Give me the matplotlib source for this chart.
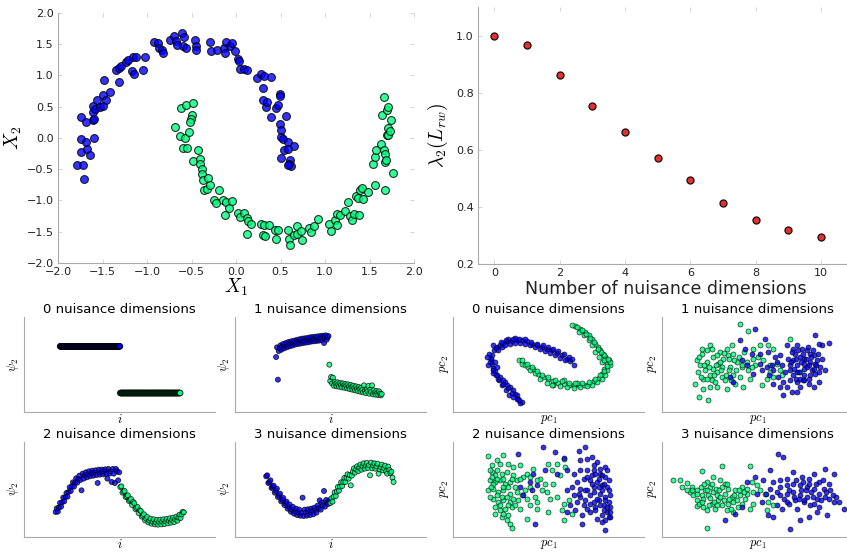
#
# Two moons, spectral embedding vs. nuisance dimensions
#

import numpy as np
import matplotlib.pyplot as plt

# ---- top left: two moons data set
moon_blue_x = [-1.79, -1.72, -1.71, -1.74, -1.74, -1.69, -1.67, -1.64, -1.74, -1.68,
               -1.60, -1.61, -1.60, -1.61, -1.61, -1.58, -1.56, -1.53, -1.49, -1.50,
               -1.46, -1.42, -1.48, -1.32, -1.35, -1.32, -1.29, -1.24, -1.21, -1.16,
               -1.17, -1.15, -1.12, -1.04, -1.02, -0.92, -0.88, -0.86, -0.83, -0.82,
               -0.74, -0.70, -0.67, -0.66, -0.61, -0.59, -0.60, -0.56, -0.46, -0.45,
               -0.45, -0.29, -0.28, -0.21, -0.14, -0.11, -0.12, -0.07, -0.05, -0.01,
               0.02, 0.03, 0.04, 0.09, 0.12, 0.24, 0.28, 0.32, 0.39, 0.30,
               0.30, 0.34, 0.35, 0.49, 0.49, 0.45, 0.47, 0.39, 0.56, 0.49,
               0.51, 0.51, 0.53, 0.58, 0.65, 0.54, 0.58, 0.51, 0.61, 0.60,
               0.62, 0.58]
moon_blue_y = [-0.44, -0.44, -0.66, -0.22, -0.01, -0.07, -0.18, -0.27, 0.33, 0.26,
               0.00, 0.28, 0.30, 0.51, 0.41, 0.46, 0.61, 0.49, 0.51, 0.69,
               0.61, 0.73, 0.92, 0.90, 1.08, 1.12, 1.15, 1.21, 1.25, 1.30,
               1.07, 1.03, 1.30, 1.09, 1.30, 1.54, 1.52, 1.44, 1.40, 1.36,
               1.57, 1.63, 1.55, 1.49, 1.68, 1.61, 1.47, 1.44, 1.56, 1.47,
               1.40, 1.54, 1.39, 1.40, 1.44, 1.53, 1.36, 1.47, 1.52, 1.39,
               1.26, 1.23, 1.11, 1.10, 1.08, 0.96, 1.03, 0.99, 0.97, 0.80,
               0.60, 0.49, 0.57, 0.71, 0.67, 0.48, 0.53, 0.33, 0.35, 0.23,
               0.13, 0.01, -0.02, -0.07, -0.13, -0.19, -0.18, -0.32, -0.36, -0.41,
               -0.45, -0.43]
moon_green_x = [-0.69, -0.63, -0.62, -0.56, -0.48, -0.57, -0.60, -0.55, -0.53, -0.50,
                -0.51, -0.52, -0.48, -0.43, -0.41, -0.40, -0.38, -0.38, -0.37, -0.36,
                -0.33, -0.31, -0.29, -0.25, -0.23, -0.19, -0.15, -0.11, -0.12, -0.08,
                -0.04, 0.02, 0.05, 0.09, 0.12, 0.14, 0.17, 0.12, 0.28, 0.31,
                0.37, 0.30, 0.33, 0.44, 0.47, 0.45, 0.58, 0.59, 0.61, 0.65,
                0.68, 0.69, 0.73, 0.74, 0.82, 0.84, 0.88, 0.92, 1.05, 1.07,
                1.11, 1.13, 1.14, 1.17, 1.23, 1.26, 1.28, 1.30, 1.33, 1.35,
                1.38, 1.37, 1.39, 1.41, 1.43, 1.48, 1.54, 1.56, 1.56, 1.57,
                1.63, 1.64, 1.66, 1.66, 1.67, 1.67, 1.67, 1.68, 1.70, 1.71,
                1.71, 1.70, 1.71, 1.73, 1.74, 1.76]
moon_green_y = [0.17, 0.03, 0.48, 0.53, 0.56, 0.00, -0.16, -0.16, 0.09, 0.36,
                0.30, 0.25, -0.37, -0.19, -0.34, -0.41, -0.50, -0.57, -0.68, -0.83,
                -0.82, -0.64, -0.75, -1.00, -1.04, -0.84, -1.00, -1.03, -1.23, -1.12,
                -1.01, -1.20, -1.26, -1.20, -1.28, -1.33, -1.37, -1.54, -1.38, -1.39,
                -1.39, -1.56, -1.57, -1.47, -1.47, -1.61, -1.48, -1.62, -1.71, -1.55,
                -1.41, -1.53, -1.49, -1.63, -1.44, -1.50, -1.41, -1.30, -1.38, -1.49,
                -1.31, -1.21, -1.40, -1.24, -1.17, -1.02, -1.25, -1.32, -1.21, -0.93,
                -1.23, -0.96, -0.83, -0.80, -0.97, -0.87, -0.41, -0.75, -0.30, -0.19,
                -0.09, 0.37, 0.65, -0.19, -0.83, -0.25, -0.39, -0.35, 0.45, 0.50,
                0.16, 0.04, 0.05, 0.11, 0.29, -0.56]

# ---- top right: second eigenvalue
n_nuisance = [0, 1, 2, 3, 4, 5, 6, 7, 8, 9, 10]
lambda2 = [1.0, 0.967, 0.861, 0.754, 0.664, 0.571, 0.494, 0.415, 0.355, 0.320, 0.296]

# ---- bottom: psi_2 per sample index (read in panel units, 0..285 high)
psi0_blue = [197] * 200
psi0_green = [57] * 200
psi1_blue = [165, 194, 97, 183, 192, 200, 187, 196, 204, 191, 199, 207, 194, 202, 210, 197,
             205, 212, 199, 207, 214, 202, 209, 216, 204, 211, 218, 205, 213, 220, 207, 214,
             221, 208, 215, 222, 209, 217, 224, 211, 218, 225, 212, 219, 226, 213, 220, 227,
             214, 221, 228, 215, 222, 229, 207, 223, 230, 217, 224, 228]
psi1_green = [142, 93, 105, 86, 103, 79, 90, 84, 77, 89, 82, 76, 87, 81, 74, 86, 79, 73, 84,
              78, 71, 83, 76, 69, 81, 74, 67, 79, 72, 65, 77, 70, 63, 75, 68, 61, 73, 66, 59,
              80, 64, 57, 69, 62, 78, 55, 67, 60, 80, 53, 65, 58, 52, 63, 57, 51, 62, 55, 50, 54]
psi2_blue = [75, 86, 76, 88, 102, 91, 104, 118, 107, 120, 132, 121, 135, 149, 138, 152, 164,
             151, 163, 176, 163, 174, 184, 171, 140, 190, 175, 185, 194, 179, 188, 197, 182,
             191, 199, 184, 193, 200, 186, 162, 202, 187, 195, 202, 188, 196, 203, 189, 175,
             204, 190, 197, 165, 204, 190, 162, 204, 197, 170, 194]
psi2_green = [150, 152, 133, 136, 138, 120, 122, 125, 108, 111, 114, 96, 105, 101, 84, 87, 90,
              72, 80, 78, 61, 64, 68, 50, 55, 60, 44, 49, 55, 40, 46, 53, 38, 44, 51, 37, 45,
              52, 38, 46, 53, 39, 47, 54, 41, 49, 56, 43, 51, 58, 45, 53, 61, 49, 58, 67, 57,
              68, 75, 74]
psi3_blue = [182, 185, 162, 165, 170, 147, 151, 154, 133, 139, 145, 120, 125, 130, 107, 112,
             117, 96, 102, 106, 85, 91, 97, 76, 82, 90, 70, 77, 85, 66, 74, 82, 64, 72, 118,
             63, 82, 73, 64, 83, 74, 66, 85, 77, 68, 88, 80, 73, 94, 86, 110, 82, 103, 95, 138,
             91, 111, 105, 99, 110]
psi3_green = [102, 116, 106, 121, 134, 123, 136, 150, 139, 151, 164, 153, 165, 177, 165, 177,
              188, 175, 186, 155, 184, 196, 206, 193, 203, 212, 198, 208, 217, 202, 212, 221,
              205, 214, 222, 207, 215, 185, 223, 206, 214, 221, 205, 212, 220, 190, 203, 210,
              217, 200, 207, 214, 197, 190, 211, 201, 192, 196, 178, 165]

# ---- bottom: first two principal components (panel units, 0..572 wide, 0..285 high)
pc0_blue_x = [205, 195, 190, 185, 178, 170, 162, 155, 148, 140, 132, 125, 120, 115, 113, 115,
              122, 130, 140, 150, 162, 175, 190, 205, 220, 235, 250, 265, 280, 295, 310, 325,
              340, 350, 360, 108, 112, 125, 130, 128, 138, 145, 158, 168, 180, 200, 135, 145,
              155, 170, 185, 200, 215, 230, 245, 260, 275, 290, 305, 320, 335, 120, 110, 165, 185,
              100, 105, 118, 135, 150, 165, 175, 190, 198, 128, 142, 158, 178, 198, 215, 232,
              250, 268, 285, 300, 315, 330, 345, 355, 118]
pc0_blue_y = [30, 40, 50, 55, 65, 75, 82, 90, 95, 105, 112, 122, 132, 145, 158, 170,
              185, 195, 202, 208, 212, 213, 217, 215, 212, 205, 200, 195, 190, 185, 178, 170,
              160, 152, 142, 175, 160, 150, 135, 110, 95, 80, 65, 50, 45, 28, 185, 195,
              200, 205, 208, 207, 205, 200, 195, 188, 182, 178, 170, 162, 155, 200, 150, 220, 222,
              165, 140, 118, 100, 85, 72, 58, 40, 35, 192, 210, 216, 220, 220, 218, 210,
              205, 200, 195, 190, 182, 175, 165, 158, 125]
pc0_green_x = [198, 205, 215, 225, 240, 255, 270, 285, 300, 315, 330, 345, 360, 375, 390, 405,
               420, 435, 445, 452, 460, 465, 455, 448, 440, 432, 425, 415, 405, 395, 380, 365,
               260, 280, 300, 320, 340, 360, 380, 400, 415, 430, 445, 455, 460, 468, 445, 435,
               425, 415, 405, 390, 375, 355, 295, 330, 370, 230, 245, 450,
               205, 220, 235, 250, 265, 285, 305, 325, 345, 365, 385, 405, 425, 440, 452, 460,
               470, 462, 452, 442, 432, 420, 410, 398, 385, 370]
pc0_green_y = [155, 145, 140, 135, 128, 115, 105, 98, 92, 88, 85, 82, 82, 82, 82, 85,
               92, 102, 115, 130, 145, 155, 165, 175, 185, 195, 205, 220, 230, 240, 250, 258,
               100, 88, 82, 78, 75, 72, 75, 78, 82, 90, 100, 110, 125, 140, 150, 165,
               180, 200, 215, 230, 240, 260, 82, 95, 88, 125, 118, 155,
               155, 145, 135, 122, 112, 105, 97, 92, 88, 88, 88, 90, 98, 110, 122, 138,
               150, 160, 170, 180, 190, 210, 222, 235, 246, 255]

pc1_green_x = [233, 258, 318, 333, 143, 118, 103, 113, 108, 98, 111, 138, 123, 143, 153, 168,
               183, 198, 213, 153, 133, 173, 193, 208, 163, 178, 188, 143, 163, 223, 238, 258,
               273, 288, 303, 323, 343, 353, 323, 298, 243, 213, 233, 263, 333, 358, 383, 413,
               128, 148, 173, 203, 273, 293, 193, 218, 278, 313, 123, 158,
               110, 120, 135, 150, 165, 185, 200, 215, 230, 245, 125, 140, 160, 180, 200, 220,
               115, 135, 155, 175, 190, 205, 240, 255, 270]
pc1_green_y = [265, 242, 200, 188, 200, 175, 155, 140, 120, 85, 45, 35, 100, 110, 130, 145,
               160, 170, 175, 165, 150, 180, 190, 200, 120, 105, 95, 75, 75, 150, 135, 125,
               160, 165, 155, 140, 145, 125, 120, 80, 75, 110, 105, 100, 105, 110, 220, 120,
               125, 95, 150, 135, 190, 200, 70, 85, 140, 100, 70, 90,
               165, 190, 185, 190, 170, 178, 160, 155, 165, 180, 140, 135, 140, 135, 125, 125,
               105, 100, 110, 125, 110, 95, 140, 150, 135]
pc1_blue_x = [278, 308, 393, 443, 458, 468, 478, 498, 373, 403, 418, 433, 453, 423, 393, 383,
              403, 423, 443, 463, 473, 458, 443, 423, 403, 383, 368, 353, 338, 318, 293, 268,
              248, 233, 273, 298, 313, 333, 348, 363, 383, 403, 423, 438, 453, 373, 353, 388,
              403, 363, 213, 203, 238, 253, 293, 478, 488, 468, 413, 333, 398, 413, 433, 448,
              413, 393, 378, 458,
              390, 405, 420, 435, 450, 465, 385, 400, 415, 430, 445, 460, 395, 410, 425, 440,
              455, 470, 400, 420, 440, 360, 345, 330, 320]
pc1_blue_y = [250, 220, 190, 175, 232, 205, 200, 208, 200, 202, 190, 185, 170, 160, 155, 140,
              140, 145, 150, 155, 135, 115, 110, 110, 120, 125, 120, 170, 165, 180, 175, 175,
              190, 215, 115, 125, 135, 125, 105, 90, 95, 90, 95, 85, 75, 75, 75, 60,
              60, 52, 90, 105, 155, 140, 145, 160, 125, 90, 75, 85, 175, 165, 135, 125,
              100, 110, 160, 145,
              180, 185, 175, 195, 185, 175, 150, 160, 150, 160, 165, 140, 130, 120, 130, 140,
              130, 120, 100, 95, 100, 140, 150, 140, 110]

pc2_green_x = [105, 150, 130, 115, 140, 165, 180, 200, 115, 125, 145, 160, 180, 110, 125, 140,
               155, 170, 190, 210, 220, 105, 120, 135, 150, 170, 190, 215, 230, 120, 135, 150,
               170, 195, 220, 245, 125, 140, 155, 175, 200, 230, 250, 145, 160, 170, 175, 165,
               220, 260, 275, 295, 310, 330, 335, 320, 300, 280, 290, 310, 330, 345, 325, 330,
               355, 250, 285, 265, 240, 285,
               110, 115, 118, 112, 130, 132, 148, 150, 165, 175, 185, 200, 130, 145, 160, 180,
               110, 140, 165, 185, 205, 125, 150, 230, 250]
pc2_green_y = [242, 245, 230, 215, 220, 220, 210, 215, 195, 185, 190, 195, 185, 170, 165, 170,
               160, 165, 170, 180, 190, 140, 145, 135, 140, 130, 135, 140, 150, 115, 105, 110,
               105, 110, 115, 120, 90, 80, 85, 90, 85, 95, 105, 60, 50, 40, 28, 65,
               55, 175, 160, 200, 220, 235, 210, 185, 160, 135, 115, 120, 100, 110, 80, 50,
               70, 85, 75, 140, 205, 220,
               200, 180, 160, 150, 200, 175, 175, 150, 150, 175, 150, 175, 125, 120, 120, 115,
               120, 95, 95, 95, 125, 70, 70, 180, 170]
pc2_blue_x = [195, 270, 305, 330, 375, 395, 380, 400, 415, 430, 455, 240, 275, 310, 340, 360,
              380, 400, 420, 440, 455, 390, 410, 430, 445, 460, 370, 355, 340, 380, 400, 420,
              440, 455, 465, 470, 460, 445, 430, 455, 470, 380, 395, 410, 425, 370, 350, 365,
              340, 385, 400, 235, 210, 200, 230, 250, 245, 385, 455, 420, 435, 450, 415, 435,
              420, 445, 430, 410,
              420, 440, 460, 425, 445, 465, 400, 415, 435, 450, 465, 470, 455, 440, 425, 410,
              395, 375, 360, 390, 460, 450, 465, 445, 470]
pc2_blue_y = [250, 270, 255, 238, 258, 270, 230, 235, 240, 225, 210, 190, 200, 190, 200, 190,
              200, 200, 200, 190, 180, 175, 170, 165, 155, 150, 165, 150, 140, 145, 140, 135,
              130, 120, 105, 90, 75, 65, 55, 50, 60, 120, 110, 100, 90, 105, 95, 80,
              75, 65, 85, 140, 125, 150, 165, 155, 40, 40, 20, 105, 110, 95, 185, 175,
              150, 140, 115, 125,
              215, 205, 200, 190, 185, 170, 180, 160, 150, 160, 140, 125, 110, 95, 80, 75,
              140, 130, 125, 95, 90, 80, 60, 45, 75]

pc3_green_x = [33, 53, 73, 88, 83, 103, 118, 118, 103, 123, 138, 153, 143, 133, 153, 173,
               178, 188, 198, 218, 233, 248, 168, 148, 123, 103, 133, 158, 178, 198, 213, 228,
               193, 213, 238, 263, 268, 283, 273, 293, 308, 318, 333, 313, 263, 273, 133, 143,
               163, 253, 93, 128, 173, 188, 208, 223,
               60, 75, 90, 105, 115, 125, 135, 150, 160, 170, 180, 195, 110, 120, 140, 155,
               165, 185, 200, 215, 230, 245, 255, 240, 205]
pc3_green_y = [172, 172, 162, 150, 135, 140, 198, 125, 110, 115, 125, 135, 150, 165, 180, 170,
               212, 160, 145, 140, 125, 115, 110, 100, 90, 92, 80, 85, 95, 100, 105, 90,
               80, 75, 150, 212, 165, 155, 135, 140, 130, 105, 95, 82, 85, 100, 28, 118,
               125, 130, 125, 140, 120, 130, 120, 110,
               150, 140, 140, 130, 150, 160, 140, 160, 145, 140, 150, 160, 100, 105, 95, 105,
               95, 110, 115, 125, 140, 135, 145, 100, 85]
pc3_blue_x = [188, 218, 238, 253, 278, 303, 323, 348, 363, 333, 353, 373, 393, 418, 438, 453,
              468, 488, 513, 353, 373, 393, 413, 433, 453, 483, 503, 353, 373, 393, 413, 433,
              463, 488, 513, 528, 543, 373, 398, 423, 443, 463, 493, 468, 413, 438, 383, 333,
              318, 358, 343, 298, 283, 323, 453, 403,
              400, 420, 440, 460, 480, 500, 415, 430, 445, 470, 490, 510, 380, 395, 410, 425,
              450, 475, 500, 520, 330, 310, 365, 345, 380]
pc3_blue_y = [52, 70, 90, 165, 180, 170, 200, 248, 240, 165, 170, 175, 195, 180, 175, 190,
              165, 205, 190, 150, 155, 160, 155, 150, 145, 145, 140, 125, 130, 135, 125, 120,
              115, 120, 105, 105, 85, 105, 110, 105, 95, 75, 65, 90, 50, 60, 25, 60,
              65, 85, 95, 105, 130, 145, 100, 85,
              170, 165, 160, 160, 170, 160, 140, 140, 135, 130, 135, 125, 140, 120, 115, 110,
              120, 110, 115, 120, 120, 130, 115, 135, 100]

BLUE = (0.0, 0.0, 1.0)
GREEN = (0.0, 1.0, 0.5)
SPINE = "#aaaaaa"
TEXT = "#222222"


def clean_axes(ax, ticks=True):
    ax.spines["top"].set_visible(False)
    ax.spines["right"].set_visible(False)
    ax.spines["left"].set_color(SPINE)
    ax.spines["bottom"].set_color(SPINE)
    if ticks:
        ax.tick_params(direction="in", length=3, width=0.6, color="#cccccc",
                       top=True, right=True, labelsize=8, labelcolor=TEXT, pad=3)
    else:
        ax.set_xticks([])
        ax.set_yticks([])


def psi_panel(ax, blue, green, start, end, title, size=13):
    n = len(blue) + len(green)
    idx = np.arange(n)
    span = (n - 1) / (end - start)
    ax.scatter(idx, blue + green, s=size, c=[BLUE] * len(blue) + [GREEN] * len(green),
               edgecolors="k", linewidths=0.6, alpha=0.8)
    ax.set_xlim(-start * span, -start * span + span)
    ax.set_ylim(0, 285)
    clean_axes(ax, ticks=False)
    ax.set_title(title, fontsize=9.5, pad=3)
    ax.set_xlabel("$i$", fontsize=9, labelpad=1)
    ax.set_ylabel(r"$\psi_2$", fontsize=9, labelpad=2)


def pc_panel(ax, bx, by, gx, gy, title, blue_first=True):
    if blue_first:
        ax.scatter(bx, by, s=13, color=BLUE, edgecolors="k", linewidths=0.5, alpha=0.8)
        ax.scatter(gx, gy, s=13, color=GREEN, edgecolors="k", linewidths=0.5, alpha=0.8)
    else:
        ax.scatter(gx, gy, s=13, color=GREEN, edgecolors="k", linewidths=0.5, alpha=0.8)
        ax.scatter(bx, by, s=13, color=BLUE, edgecolors="k", linewidths=0.5, alpha=0.8)
    ax.set_xlim(0, 572)
    ax.set_ylim(0, 285)
    clean_axes(ax, ticks=False)
    ax.set_title(title, fontsize=9.5, pad=3)
    ax.set_xlabel("$pc_1$", fontsize=9, labelpad=1)
    ax.set_ylabel("$pc_2$", fontsize=9, labelpad=2)


def main():
    plt.rcParams["mathtext.fontset"] = "cm"
    fig = plt.figure(figsize=(8.47, 5.52), dpi=100)

    # two moons
    ax = fig.add_axes([0.0685, 0.5236, 0.4203, 0.4529])
    ax.scatter(moon_blue_x, moon_blue_y, s=32, color=BLUE, edgecolors="k", linewidths=0.8, alpha=0.8)
    ax.scatter(moon_green_x, moon_green_y, s=32, color=GREEN, edgecolors="k", linewidths=0.8, alpha=0.8)
    ax.set_xlim(-2, 2)
    ax.set_ylim(-2, 2)
    ax.set_xticks(np.arange(-2, 2.01, 0.5))
    ax.set_yticks(np.arange(-2, 2.01, 0.5))
    clean_axes(ax)
    ax.set_xlabel("$X_1$", fontsize=14, labelpad=0)
    ax.set_ylabel("$X_2$", fontsize=14, labelpad=2)

    # eigenvalue vs nuisance dimensions
    ax = fig.add_axes([0.5643, 0.5217, 0.4436, 0.4656])
    ax.scatter(n_nuisance, lambda2, s=26, color="#e0191c", edgecolors="k", linewidths=0.9, alpha=0.9)
    ax.set_xlim(-0.5, 11)
    ax.set_ylim(0.2, 1.1)
    ax.set_xticks([0, 2, 4, 6, 8, 10])
    ax.set_yticks([0.2, 0.4, 0.6, 0.8, 1.0])
    clean_axes(ax)
    ax.set_xlabel("Number of nuisance dimensions", fontsize=12.5, labelpad=1, color=TEXT)
    ax.set_ylabel(r"$\lambda_2(L_{rw})$", fontsize=14, labelpad=4)

    # bottom panels
    h = 0.1721
    w = 0.2255
    row1 = 0.2536
    row2 = 0.0272
    psi_panel(fig.add_axes([0.0283, row1, w, h]), psi0_blue, psi0_green, 0.189, 0.818,
              "0 nuisance dimensions", size=16)
    psi_panel(fig.add_axes([0.2775, row1, w, h]), psi1_blue, psi1_green, 0.215, 0.768,
              "1 nuisance dimensions")
    psi_panel(fig.add_axes([0.0283, row2, w, h]), psi2_blue, psi2_green, 0.166, 0.837,
              "2 nuisance dimensions")
    psi_panel(fig.add_axes([0.2775, row2, w, h]), psi3_blue, psi3_green, 0.163, 0.830,
              "3 nuisance dimensions")

    pc_panel(fig.add_axes([0.5352, row1, w, h]), pc0_blue_x, pc0_blue_y, pc0_green_x, pc0_green_y,
             "0 nuisance dimensions")
    pc_panel(fig.add_axes([0.7819, row1, w, h]), pc1_blue_x, pc1_blue_y, pc1_green_x, pc1_green_y,
             "1 nuisance dimensions", blue_first=False)
    pc_panel(fig.add_axes([0.5352, row2, w, h]), pc2_blue_x, pc2_blue_y, pc2_green_x, pc2_green_y,
             "2 nuisance dimensions", blue_first=False)
    pc_panel(fig.add_axes([0.7819, row2, w, h]), pc3_blue_x, pc3_blue_y, pc3_green_x, pc3_green_y,
             "3 nuisance dimensions", blue_first=False)

    fig.savefig("out.png", dpi=100)


if __name__ == "__main__":
    main()
